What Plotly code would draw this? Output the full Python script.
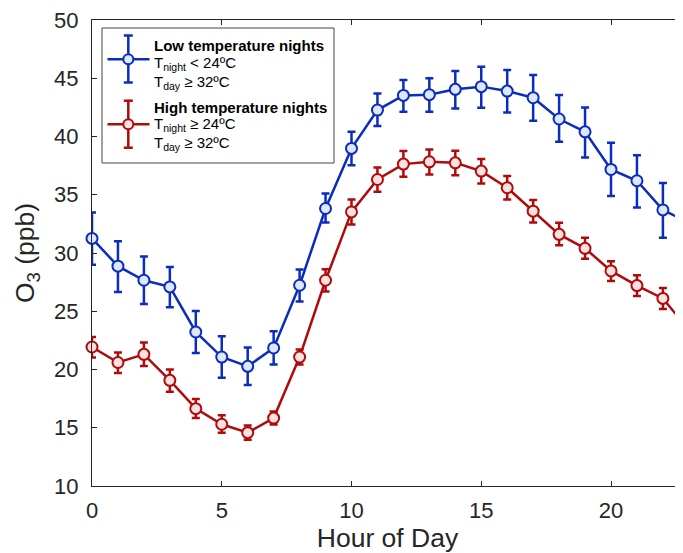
import plotly.graph_objects as go

hours = list(range(24))

low_mean = [31.25, 28.87, 27.66, 27.09, 23.22, 21.07, 20.27, 21.85, 27.23, 33.82, 38.98, 42.27,
            43.53, 43.59, 44.05, 44.28, 43.90, 43.33, 41.50, 40.40, 37.17, 36.20, 33.70, 32.60]
low_upper = [33.48, 31.00, 29.70, 28.80, 25.03, 22.85, 21.88, 23.28, 28.58, 35.11, 40.40, 43.70,
             44.85, 44.99, 45.62, 45.99, 45.70, 45.27, 43.56, 42.50, 39.46, 38.40, 36.00, 34.80]
low_lower = [29.00, 26.66, 25.63, 25.34, 21.42, 19.30, 18.67, 20.42, 25.83, 32.62, 37.54, 40.90,
             42.12, 42.12, 42.41, 42.47, 42.07, 41.35, 39.55, 38.20, 34.90, 33.90, 31.30, 30.40]

high_mean = [21.93, 20.60, 21.30, 19.07, 16.64, 15.30, 14.58, 15.83, 21.07, 27.66, 33.53, 36.31,
             37.63, 37.83, 37.74, 37.03, 35.60, 33.59, 31.60, 30.40, 28.46, 27.20, 26.10, 23.40]
high_upper = [22.80, 21.45, 22.31, 19.99, 17.47, 16.07, 15.20, 16.40, 21.71, 28.60, 34.60, 37.34,
              38.75, 38.89, 38.77, 38.06, 36.60, 34.54, 32.60, 31.30, 29.30, 28.10, 27.00, 24.30]
high_lower = [21.02, 19.70, 20.30, 18.10, 15.83, 14.58, 13.98, 15.27, 20.42, 26.70, 32.45, 35.25,
              36.54, 36.74, 36.68, 35.97, 34.60, 32.62, 30.67, 29.50, 27.60, 26.30, 25.20, 22.50]

x_ticks = [0, 5, 10, 15, 20]
y_ticks = [10, 15, 20, 25, 30, 35, 40, 45, 50]

BLUE = "#0b2dbd"
BLUE_FILL = "#dfe7fa"
RED = "#b00a0a"
RED_FILL = "#fbe1e1"
TXT = "#262626"
FONT = "Liberation Sans, Arial, sans-serif"

OFF = 8  # page body margin in the browser
W, H = 683 - OFF, 553 - OFF
L, T = 92 - OFF, 20 - OFF
B = H - (486 - OFF)
R = 0
PW, PH = W - L - R, H - T - B


def px(sx):
    return (sx - OFF - L) / PW


def py(sy):
    return (H - B - (sy - OFF)) / PH


def trace(mean, upper, lower, color, fill):
    return go.Scatter(
        x=hours, y=mean, mode="lines+markers", cliponaxis=False, showlegend=False,
        line=dict(color=color, width=2.5),
        marker=dict(symbol="circle", size=11, color=fill, line=dict(color=color, width=2)),
        error_y=dict(type="data", symmetric=False,
                     array=[u - m for u, m in zip(upper, mean)],
                     arrayminus=[m - lo for m, lo in zip(mean, lower)],
                     color=color, thickness=2.5, width=4),
    )


fig = go.Figure()
fig.add_trace(trace(low_mean, low_upper, low_lower, BLUE, BLUE_FILL))
fig.add_trace(trace(high_mean, high_upper, high_lower, RED, RED_FILL))

shapes = []
shapes.append(dict(type="rect", xref="paper", yref="paper", x0=px(102), x1=px(334),
                   y0=py(163), y1=py(28), line=dict(color="#444444", width=1),
                   fillcolor="white", layer="above"))


def legend_icon(cy, top, bot, color, fill):
    cx = 128.3
    out = []
    out.append(dict(type="line", xref="paper", yref="paper", x0=px(107.5), x1=px(149.5),
                    y0=py(cy), y1=py(cy), line=dict(color=color, width=2.5), layer="above"))
    out.append(dict(type="line", xref="paper", yref="paper", x0=px(cx), x1=px(cx),
                    y0=py(top), y1=py(bot), line=dict(color=color, width=2.5), layer="above"))
    for yy in (top, bot):
        out.append(dict(type="line", xref="paper", yref="paper", x0=px(cx - 4.5), x1=px(cx + 4.5),
                        y0=py(yy), y1=py(yy), line=dict(color=color, width=2.5), layer="above"))
    out.append(dict(type="circle", xref="paper", yref="paper", x0=px(cx - 5), x1=px(cx + 5),
                    y0=py(cy + 5), y1=py(cy - 5), line=dict(color=color, width=2),
                    fillcolor=fill, layer="above"))
    return out


shapes += legend_icon(59.3, 35.5, 82.5, BLUE, BLUE_FILL)
shapes += legend_icon(124.3, 100.7, 147.7, RED, RED_FILL)

legend_lines = [
    (45.5, "<b>Low temperature nights</b>"),
    (63.5, "T<sub>night</sub> < 24ºC"),
    (82.0, "T<sub>day</sub> ≥ 32ºC"),
    (107.5, "<b>High temperature nights</b>"),
    (124.5, "T<sub>night</sub> ≥ 24ºC"),
    (143.5, "T<sub>day</sub> ≥ 32ºC"),
]
annotations = []
for yy, txt in legend_lines:
    annotations.append(dict(text=txt, xref="paper", yref="paper", x=px(152), y=py(yy),
                            xanchor="left", yanchor="middle", showarrow=False,
                            font=dict(family=FONT, size=15, color="black")))

fig.update_layout(
    width=W, height=H,
    margin=dict(l=L, r=R, t=T, b=B, autoexpand=False),
    paper_bgcolor="white", plot_bgcolor="white",
    font=dict(family=FONT, color=TXT),
    shapes=shapes, annotations=annotations,
    xaxis=dict(range=[0, PW / 25.95], tickvals=x_ticks, ticktext=[str(v) for v in x_ticks],
               automargin=False, ticklabeloverflow="allow",
               showgrid=False, zeroline=False, showline=True, linecolor="#262626", linewidth=1,
               mirror="ticks", ticks="inside", ticklen=5, tickcolor="#262626",
               tickfont=dict(size=22, color=TXT), ticklabelstandoff=5,
               title=dict(text="Hour of Day", font=dict(size=26.5, color=TXT), standoff=7)),
    yaxis=dict(range=[10, 50], tickvals=y_ticks, ticktext=[str(v) for v in y_ticks],
               automargin=False, ticklabeloverflow="allow",
               showgrid=False, zeroline=False, showline=True, linecolor="#262626", linewidth=1,
               mirror=False, ticks="inside", ticklen=5, tickcolor="#262626",
               tickfont=dict(size=22, color=TXT), ticklabelstandoff=8,
               title=dict(text="O<sub>3</sub> (ppb)", font=dict(size=26.5, color=TXT), standoff=11)),
)

fig.write_html("out.html")
